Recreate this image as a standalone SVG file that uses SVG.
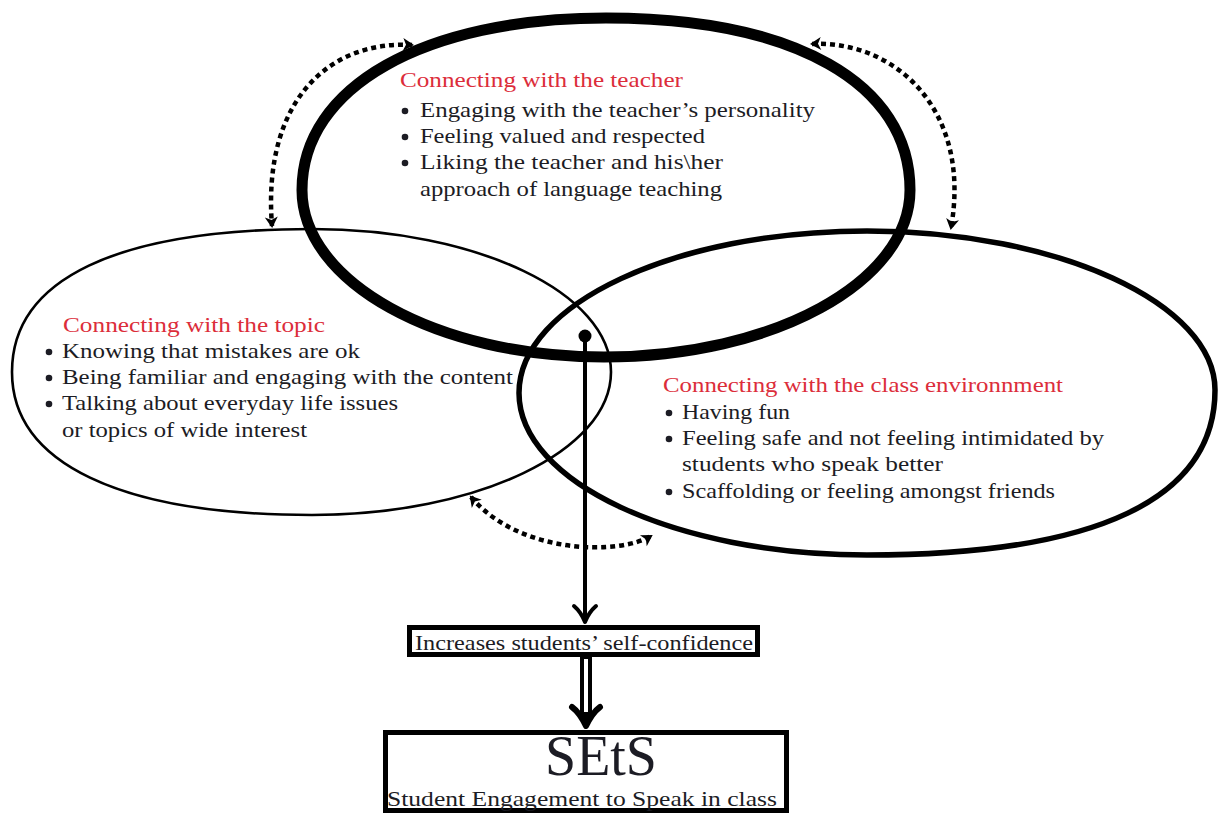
<svg xmlns="http://www.w3.org/2000/svg" width="1220" height="814" viewBox="0 0 1220 814">
<style>
.bg{fill:#ffffff}
.shape{fill:none;stroke:#000;stroke-linejoin:round}
text{font-family:'Liberation Serif','DejaVu Serif',serif;font-size:21px}
.t{fill:#1c1c24}
.h{fill:#dc2d3a}
.dot{fill:#1c1c24}
.dash{fill:none;stroke:#000;stroke-width:4.5;stroke-dasharray:5 4}
.box{fill:none;stroke:#000;stroke-width:5}
.ln{fill:none;stroke-linecap:butt}
</style>
<defs>
<marker id="tip" viewBox="-11 -8 14 16" refX="0" refY="0" markerWidth="14" markerHeight="16" markerUnits="userSpaceOnUse" orient="auto-start-reverse">
<path d="M2,0 L-9,-6.5 L-6,0 L-9,6.5 Z" fill="#000"/>
</marker>
</defs>
<rect class="bg" x="0" y="0" width="1220" height="814"/>

<g id="node-topic">
<path class="shape" stroke-width="2.6" d="M12,372 C12,279 117,229 312,229 C477,229 611,293 611,372 C611,451 477,515 312,515 C120,515 12,463 12,372 Z"/>
<text class="h" x="63" y="332" textLength="262" lengthAdjust="spacingAndGlyphs">Connecting with the topic</text>
<circle class="dot" cx="49" cy="352" r="3.3"/>
<text class="t" x="62" y="358" textLength="298" lengthAdjust="spacingAndGlyphs">Knowing that mistakes are ok</text>
<circle class="dot" cx="49" cy="378" r="3.3"/>
<text class="t" x="62" y="384" textLength="451" lengthAdjust="spacingAndGlyphs">Being familiar and engaging with the content</text>
<circle class="dot" cx="49" cy="404" r="3.3"/>
<text class="t" x="62" y="410" textLength="336" lengthAdjust="spacingAndGlyphs">Talking about everyday life issues</text>
<text class="t" x="62" y="437" textLength="245" lengthAdjust="spacingAndGlyphs">or topics of wide interest</text>
</g>

<g id="node-class">
<path class="shape" stroke-width="5.5" d="M519,393 C519,304 675,231 867,231 C1059,231 1215,304 1215,390 C1215,499 1097,555 867,555 C675,555 519,482 519,393 Z"/>
<text class="h" x="663" y="392" textLength="400" lengthAdjust="spacingAndGlyphs">Connecting with the class environnment</text>
<circle class="dot" cx="669" cy="413" r="3.3"/>
<text class="t" x="682" y="419" textLength="108" lengthAdjust="spacingAndGlyphs">Having fun</text>
<circle class="dot" cx="669" cy="439" r="3.3"/>
<text class="t" x="682" y="445" textLength="422" lengthAdjust="spacingAndGlyphs">Feeling safe and not feeling intimidated by</text>
<text class="t" x="682" y="471" textLength="261" lengthAdjust="spacingAndGlyphs">students who speak better</text>
<circle class="dot" cx="669" cy="492" r="3.3"/>
<text class="t" x="682" y="498" textLength="373" lengthAdjust="spacingAndGlyphs">Scaffolding or feeling amongst friends</text>
</g>

<g id="node-teacher">
<path class="shape" stroke-width="11" d="M302,190 C302,87 424,18 606,18 C794,18 910,83 910,190 C910,282 773,357 604,357 C437,357 302,282 302,190 Z"/>
<text class="h" x="400" y="87" textLength="283" lengthAdjust="spacingAndGlyphs">Connecting with the teacher</text>
<circle class="dot" cx="405" cy="111" r="3.3"/>
<text class="t" x="420" y="117" textLength="395" lengthAdjust="spacingAndGlyphs">Engaging with the teacher’s personality</text>
<circle class="dot" cx="405" cy="137" r="3.3"/>
<text class="t" x="420" y="143" textLength="285" lengthAdjust="spacingAndGlyphs">Feeling valued and respected</text>
<circle class="dot" cx="405" cy="163" r="3.3"/>
<text class="t" x="420" y="169" textLength="303" lengthAdjust="spacingAndGlyphs">Liking the teacher and his\her</text>
<text class="t" x="420" y="196" textLength="302" lengthAdjust="spacingAndGlyphs">approach of language teaching</text>
</g>

<g id="node-confidence">
<rect class="box" x="409.5" y="627.5" width="348" height="27"/>
<text class="t" x="415" y="650" textLength="338" lengthAdjust="spacingAndGlyphs">Increases students’ self-confidence</text>
</g>

<g id="node-sets">
<rect class="box" x="385.5" y="732.5" width="401" height="78"/>
<text class="t" x="545" y="775" style="font-size:56px" textLength="112" lengthAdjust="spacingAndGlyphs">SEtS</text>
<text class="t" x="387" y="806" textLength="390" lengthAdjust="spacingAndGlyphs">Student Engagement to Speak in class</text>
</g>

<g id="connectors">
<path class="dash" d="M412,45 C330,40 262,100 272,226" marker-start="url(#tip)" marker-end="url(#tip)"/>
<path class="dash" d="M812,44 C895,40 972,110 951,228" marker-start="url(#tip)" marker-end="url(#tip)"/>
<path class="dash" d="M471,497 C520,555 620,555 651,536" marker-start="url(#tip)" marker-end="url(#tip)"/>
<circle cx="585" cy="336" r="6.5" fill="#000"/>
<line class="ln" x1="585" y1="336" x2="585" y2="620" style="stroke:#000;stroke-width:4"/>
<path d="M574,606 Q581,612 585,622 Q589,612 596,606" fill="none" stroke="#000" stroke-width="4" stroke-linecap="round" stroke-linejoin="round"/>
<line class="ln" x1="586" y1="657" x2="586" y2="720" style="stroke:#000;stroke-width:12"/>
<line class="ln" x1="586" y1="659" x2="586" y2="712" style="stroke:#fff;stroke-width:4"/>
<path d="M572,707 Q580,713 586,726 Q592,713 600,707" fill="none" stroke="#000" stroke-width="6" stroke-linecap="round" stroke-linejoin="round"/>
</g>
</svg>
